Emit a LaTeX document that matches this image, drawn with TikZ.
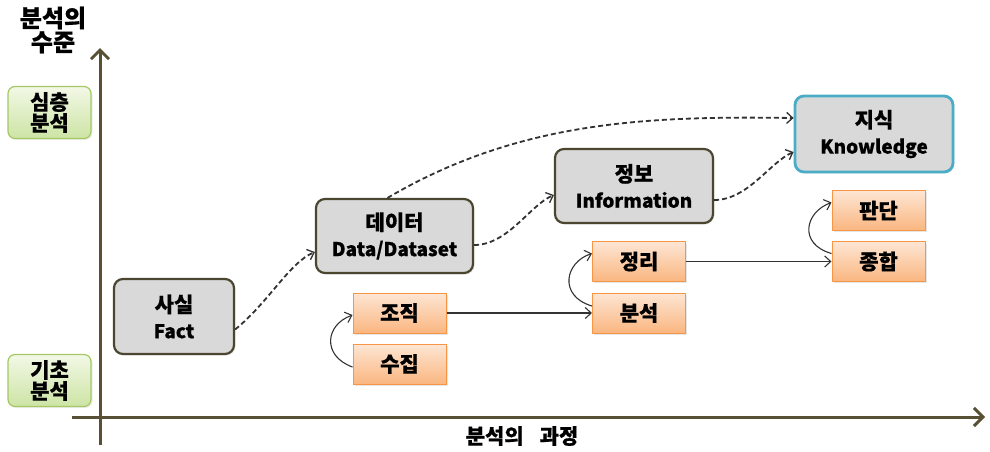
\documentclass[tikz,border=0pt]{standalone}
\usepackage{fontspec}
\setmainfont{Noto Sans CJK KR}[BoldFeatures={FakeBold=0.6}]
\usetikzlibrary{arrows.meta,shadows}
\definecolor{axiscol}{RGB}{88,80,52}
\definecolor{boxborder}{RGB}{74,70,48}
\definecolor{boxfill}{RGB}{217,217,217}
\definecolor{knowborder}{RGB}{75,172,198}
\definecolor{orborder}{RGB}{247,150,70}
\definecolor{ortop}{RGB}{253,230,212}
\definecolor{orbot}{RGB}{250,182,128}
\definecolor{grborder}{RGB}{165,200,100}
\definecolor{grtop}{RGB}{242,248,230}
\definecolor{grbot}{RGB}{205,228,165}
\definecolor{dashcol}{RGB}{50,50,50}
\newcommand{\kor}[1]{{\fontsize{21}{26}\selectfont #1}}
\begin{document}
\begin{tikzpicture}[x=1pt,y=-1pt,
  graybox/.style={draw=boxborder, line width=2.2pt, rounded corners=9pt, fill=boxfill,
    inner sep=0pt, align=center, font=\fontsize{19}{26}\selectfont\bfseries,
    drop shadow={opacity=0.15, shadow xshift=1.5pt, shadow yshift=-1.5pt}},
  knowbox/.style={graybox, draw=knowborder, line width=2.8pt},
  orbox/.style={draw=orborder, line width=1pt, top color=ortop, bottom color=orbot,
    inner sep=0pt, minimum width=93pt, minimum height=40pt,
    font=\fontsize{21}{22}\selectfont\bfseries,
    drop shadow={opacity=0.2, shadow xshift=1.5pt, shadow yshift=-1.5pt}},
  grbox/.style={draw=grborder, line width=1.2pt, rounded corners=7pt, top color=grtop, bottom color=grbot,
    inner sep=0pt, minimum width=83pt, minimum height=52pt, align=center,
    font=\fontsize{21}{21}\selectfont\bfseries,
    drop shadow={opacity=0.15, shadow xshift=1.5pt, shadow yshift=-1.5pt}},
  axisline/.style={draw=axiscol, line width=3pt, -{Straight Barb[length=9pt,width=18pt]}},
  dashconn/.style={draw=dashcol, line width=1.8pt, dash pattern=on 5pt off 3pt,
    -{Straight Barb[length=6pt,width=11pt,line width=1.3pt]}},
  solidconn/.style={draw=black!80, line width=1.1pt, -{Straight Barb[length=6pt,width=11pt]}},
  lbl/.style={inner sep=0pt, align=center}
]
\useasboundingbox (0,0) rectangle (990,451);

% axes
\coordinate (ybot) at (100,445);
\coordinate (ytop) at (100,48);
\coordinate (xl) at (72,417);
\coordinate (xr) at (985,417);
\draw[axisline] (ybot) -- (ytop);
\draw[axisline] (xl) -- (xr);

% axis labels
\node[lbl, font=\fontsize{24}{24}\selectfont\bfseries] (ttl) at (53,30) {분석의\\수준};
\node[lbl, font=\fontsize{21}{22}\selectfont\bfseries] (xlab) at (522,436) {분석의\hspace{16pt}과정};

% level boxes
\node[grbox] (deep) at (49.5,112.5) {심층\\분석};
\node[grbox] (basic) at (49.5,380.5) {기초\\분석};

% main boxes
\node[graybox, minimum width=120pt, minimum height=75pt] (fact) at (174,316.5) {\kor{사실}\\Fact};
\node[graybox, minimum width=157pt, minimum height=74pt] (data) at (394.5,236) {\kor{데이터}\\Data/Dataset};
\node[graybox, minimum width=158pt, minimum height=74pt] (info) at (634,186) {\kor{정보}\\Information};
\node[knowbox, minimum width=158pt, minimum height=76pt] (know) at (874,134) {\kor{지식}\\Knowledge};

% orange boxes
\node[orbox] (jojik) at (399.5,313) {조직};
\node[orbox] (sujip) at (399.5,364) {수집};
\node[orbox] (jeongri) at (639,261.5) {정리};
\node[orbox] (bunseok) at (639,313) {분석};
\node[orbox] (pandan) at (878.5,210.5) {판단};
\node[orbox] (jonghap) at (878.5,261.5) {종합};

% dashed connectors
\draw[dashconn] ([yshift=-13pt]fact.east) .. controls (268,303) and (290,262) .. ([yshift=-16pt]data.west);
\draw[dashconn] ([yshift=-9pt]data.east) .. controls (508,245) and (530,205) .. ([yshift=-9pt]info.west);
\draw[dashconn] ([yshift=-14pt]info.east) .. controls (748,200) and (770,162) .. ([yshift=-18pt]know.west);
\draw[dashconn] ([xshift=-7pt]data.north) .. controls (520,120) and (650,116) .. ([yshift=16pt]know.west);

% solid connectors
\draw[solidconn] ([yshift=-3pt]sujip.west) .. controls (322,356) and (325,325) .. ([yshift=-2pt]jojik.west);
\draw[solidconn] (jojik.east) -- (bunseok.west);
\draw[solidconn] ([yshift=7pt]bunseok.west) .. controls (558,296) and (565,262) .. ([yshift=8pt]jeongri.west);
\draw[solidconn] (jeongri.east) -- (jonghap.west);
\draw[solidconn] ([yshift=8pt]jonghap.west) .. controls (798,244) and (805,212) .. ([yshift=8pt]pandan.west);
\end{tikzpicture}
\end{document}
